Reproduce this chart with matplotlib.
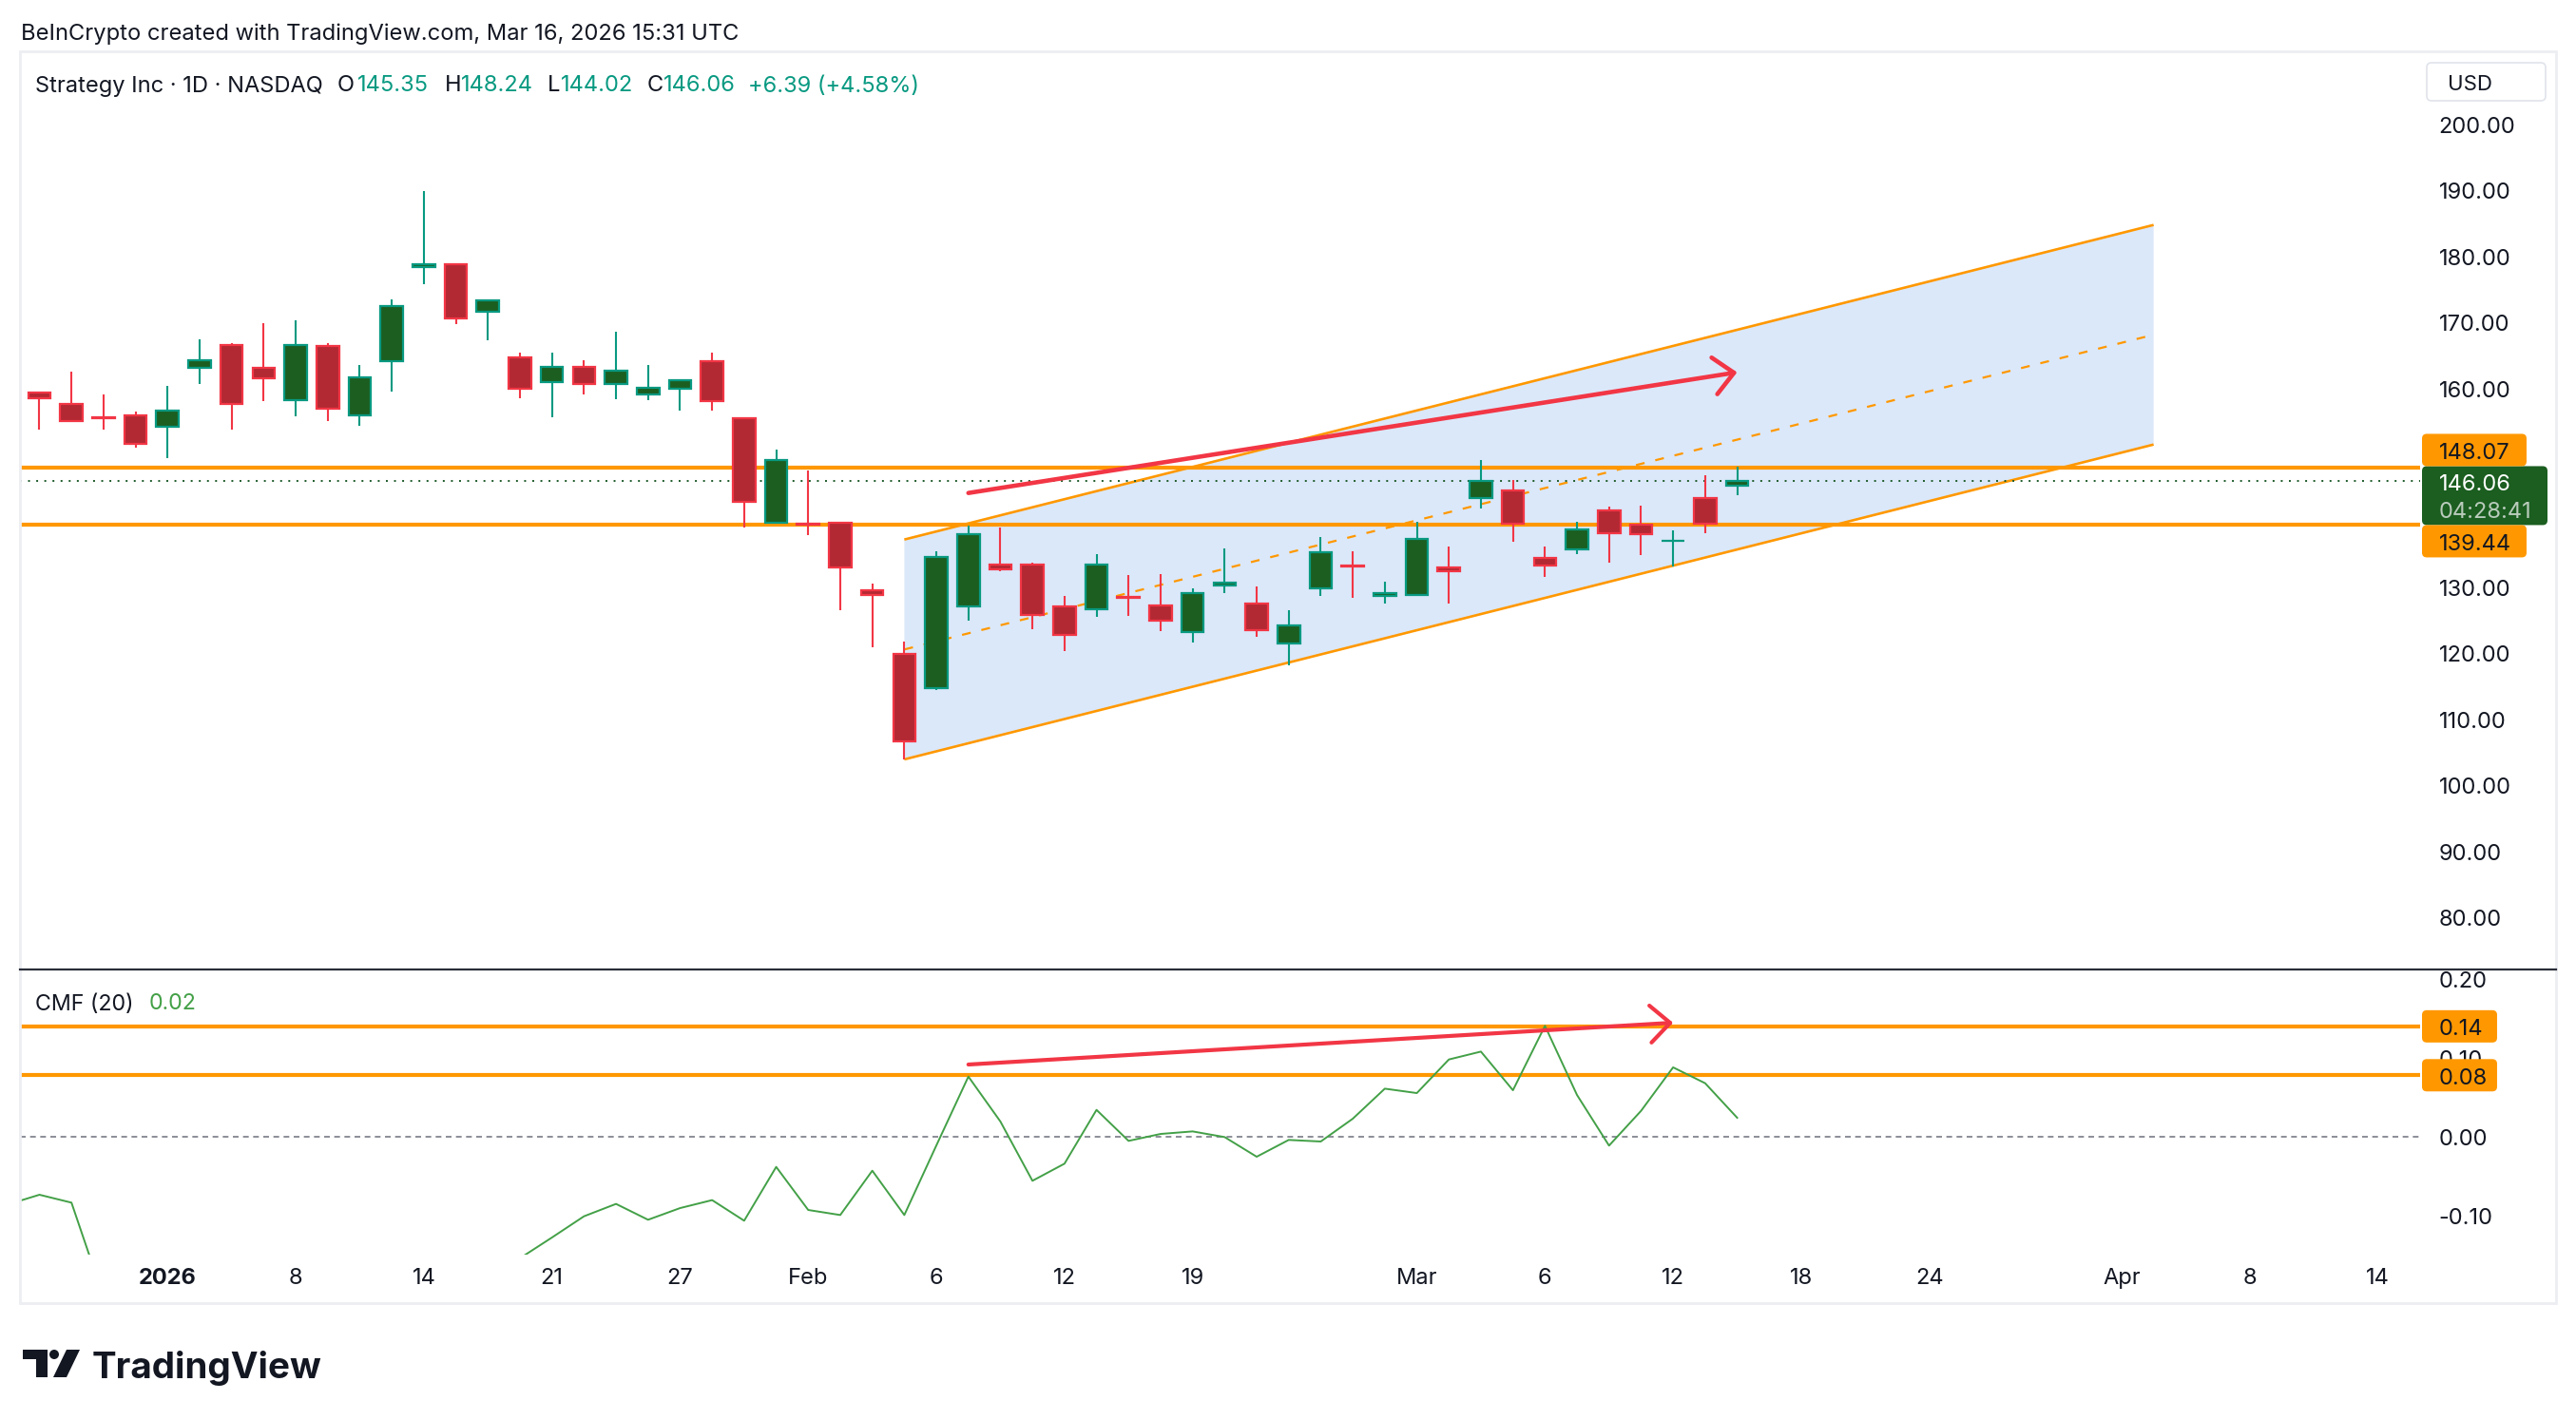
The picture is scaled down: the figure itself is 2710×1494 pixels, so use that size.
import matplotlib
matplotlib.use('Agg')
import matplotlib.pyplot as plt
from matplotlib.patches import Rectangle, FancyBboxPatch, Polygon, Circle
from matplotlib.lines import Line2D
import matplotlib.transforms as mtransforms
import numpy as np

plt.rcParams['font.family'] = ['Inter', 'DejaVu Sans']

# ---------------- data ----------------
dates = ['Dec 26', 'Dec 29', 'Dec 30', 'Dec 31',
         'Jan 2', 'Jan 5', 'Jan 6', 'Jan 7', 'Jan 8', 'Jan 9', 'Jan 12', 'Jan 13', 'Jan 14',
         'Jan 15', 'Jan 16', 'Jan 20', 'Jan 21', 'Jan 22', 'Jan 23', 'Jan 26', 'Jan 27',
         'Jan 28', 'Jan 29', 'Jan 30',
         'Feb 2', 'Feb 3', 'Feb 4', 'Feb 5', 'Feb 6', 'Feb 9', 'Feb 10', 'Feb 11', 'Feb 12',
         'Feb 13', 'Feb 17', 'Feb 18', 'Feb 19', 'Feb 20', 'Feb 23', 'Feb 24', 'Feb 25',
         'Feb 26', 'Feb 27',
         'Mar 2', 'Mar 3', 'Mar 4', 'Mar 5', 'Mar 6', 'Mar 9', 'Mar 10', 'Mar 11', 'Mar 12',
         'Mar 13', 'Mar 16']
opens = [159.54, 157.72, 155.80, 156.00,
         154.32, 163.18, 166.64, 163.18, 158.34, 166.49, 156.04, 164.24, 178.47,
         178.86, 171.67, 164.86, 161.03, 163.42, 160.74, 159.16, 160.02,
         164.19, 155.66, 139.84,
         139.65, 139.84, 129.64, 120.00, 114.73, 127.10, 133.42, 133.42, 127.19,
         126.71, 128.63, 127.34, 123.21, 130.26, 127.62, 121.54, 129.83,
         133.37, 128.68,
         128.87, 133.09, 143.49, 144.73, 134.53, 135.72, 141.62, 139.56, 137.02,
         143.58, 145.35]
highs = [159.60, 162.66, 159.20, 156.57,
         160.50, 167.55, 166.97, 169.99, 170.42, 166.97, 163.66, 173.58, 189.98,
         179.00, 173.58, 165.53, 165.53, 164.38, 168.70, 163.66, 161.46,
         165.53, 155.70, 150.87,
         147.70, 139.90, 130.55, 121.78, 135.44, 139.32, 139.08, 133.71, 128.73,
         135.05, 131.89, 132.03, 129.83, 135.92, 130.16, 126.57, 137.64,
         135.48, 130.88,
         139.89, 136.20, 149.29, 146.27, 136.20, 139.89, 142.19, 142.34, 138.60,
         146.94, 148.24]
lows = [153.93, 155.00, 153.93, 151.20,
        149.62, 160.79, 153.93, 158.25, 155.95, 155.23, 154.50, 159.68, 175.93,
        169.90, 167.45, 158.68, 155.80, 159.25, 158.53, 158.39, 156.81,
        156.81, 139.12, 139.80,
        137.88, 126.62, 121.01, 104.00, 114.54, 124.94, 132.51, 123.74, 120.39,
        125.61, 125.75, 123.45, 121.73, 129.20, 122.59, 118.28, 128.77,
        128.44, 127.62,
        128.80, 127.62, 142.00, 136.92, 131.65, 135.10, 133.81, 134.96, 133.23,
        138.26, 144.02]
closes = [158.59, 155.13, 155.60, 151.73,
          156.81, 164.43, 157.72, 161.60, 166.64, 157.05, 161.84, 172.63, 178.95,
          170.71, 173.39, 160.07, 163.42, 160.74, 162.85, 160.26, 161.32,
          158.15, 142.96, 149.33,
          139.46, 132.99, 128.87, 106.73, 134.67, 138.12, 132.70, 125.80, 122.78,
          133.52, 128.44, 124.94, 129.20, 130.79, 123.55, 124.32, 135.39,
          133.18, 129.20,
          137.40, 132.42, 146.17, 139.65, 133.33, 138.74, 138.17, 138.07, 137.11,
          139.67, 146.06]

cmf_days = ['Dec 24'] + dates
cmf_values = [-0.086, -0.0735, -0.0835, -0.203, -0.21, -0.19, -0.22, -0.20, -0.18, -0.21,
              -0.19, -0.17, -0.20, -0.18, -0.17, -0.165, -0.154, -0.1277, -0.1008, -0.0851,
              -0.1052, -0.0904, -0.0803, -0.1064, -0.0382, -0.0928, -0.0992, -0.043, -0.0992,
              -0.011, 0.0763, 0.0193, -0.0558, -0.0341, 0.0341, -0.0052, 0.0036, 0.0068,
              -0.0004, -0.0253, -0.004, -0.006, 0.0229, 0.061, 0.0554, 0.098, 0.108, 0.059,
              0.1406, 0.053, -0.0112, 0.0329, 0.088, 0.0679, 0.0241]

future_days = ['Mar 17', 'Mar 18', 'Mar 19', 'Mar 20', 'Mar 23', 'Mar 24', 'Mar 25', 'Mar 26',
               'Mar 27', 'Mar 30', 'Mar 31', 'Apr 1', 'Apr 2', 'Apr 6', 'Apr 7', 'Apr 8',
               'Apr 9', 'Apr 10', 'Apr 13', 'Apr 14']

tick_days = ['Jan 2', 'Jan 8', 'Jan 14', 'Jan 21', 'Jan 27', 'Feb 2', 'Feb 6', 'Feb 12',
             'Feb 19', 'Mar 2', 'Mar 6', 'Mar 12', 'Mar 18', 'Mar 24', 'Apr 1', 'Apr 8', 'Apr 14']
tick_labels = ['2026', '8', '14', '21', '27', 'Feb', '6', '12', '19', 'Mar', '6', '12', '18',
               '24', 'Apr', '8', '14']

price_ticks = [80, 90, 100, 110, 120, 130, 160, 170, 180, 190, 200]
cmf_ticks = [0.20, 0.10, 0.00, -0.10]

resistance = 148.07
support = 139.44
last_price = 146.06
countdown = '04:28:41'
cmf_levels = [0.14, 0.078]

channel_days = ['Feb 5', 'Apr 2']
channel_lower = [104.00, 151.63]
channel_upper = [137.26, 184.85]

price_arrow_days = ['Feb 9', 'Mar 16']
price_arrow_vals = [144.30, 162.56]
cmf_arrow_days = ['Feb 9', 'Mar 12']
cmf_arrow_vals = [0.0916, 0.1446]

header = 'BeInCrypto created with TradingView.com, Mar 16, 2026 15:31 UTC'
legend_pieces = [('Strategy Inc · 1D · NASDAQ', 'k', 37), ('O', 'k', 355), ('145.35', 't', 376),
                 ('H', 'k', 468), ('148.24', 't', 485), ('L', 'k', 576), ('144.02', 't', 590),
                 ('C', 'k', 681), ('146.06', 't', 698), ('+6.39 (+4.58%)', 't', 787)]

# ---------------- helpers ----------------
all_days = ['Dec 24'] + dates + future_days
zero = all_days.index('Jan 2')
def bx(d):
    return all_days.index(d) - zero

W, H = 2710, 1494
fig = plt.figure(figsize=(W / 100, H / 100), dpi=100)
fig.patch.set_facecolor('white')
IDT = mtransforms.IdentityTransform()
renderer = fig.canvas.get_renderer()

def Y(y):
    return H - y

UP_EDGE, UP_FILL = '#089981', '#1b5e20'
DN_EDGE, DN_FILL = '#f23645', '#b22833'
ORANGE = '#ff9800'
TEAL = '#089981'
TXT = '#131722'
RED = '#f23645'

L, R = 20.7, 2546
P_TOP, P_BOT, C_BOT = 55, 1019.5, 1320
ax = fig.add_axes([L / W, Y(P_BOT) / H, (R - L) / W, (P_BOT - P_TOP) / H])
axc = fig.add_axes([L / W, Y(C_BOT) / H, (R - L) / W, (C_BOT - P_BOT) / H])

xl = (-4.617, 70.32)
for a in (ax, axc):
    a.set_xlim(*xl)
    for s in a.spines.values():
        s.set_visible(False)
    a.set_facecolor('none')
ax.set_ylim(72.29, 210.97)
axc.set_ylim(-0.1494, 0.2127)

# price axis
ax.yaxis.tick_right()
ax.set_yticks(price_ticks)
ax.set_yticklabels([f'{v:.2f}' for v in price_ticks])
ax.tick_params(axis='y', length=0, pad=14, labelsize=17, labelcolor=TXT)
ax.set_xticks([])

axc.yaxis.tick_right()
axc.set_yticks(cmf_ticks)
axc.set_yticklabels([f'{v:.2f}' for v in cmf_ticks])
axc.tick_params(axis='y', length=0, pad=14, labelsize=17, labelcolor=TXT)
axc.set_xticks([bx(d) for d in tick_days])
axc.set_xticklabels(tick_labels)
axc.tick_params(axis='x', length=0, pad=10, labelsize=17, labelcolor=TXT)
axc.get_xticklabels()[0].set_fontweight('bold')

# channel
cx = [bx(d) for d in channel_days]
ax.fill([cx[0], cx[1], cx[1], cx[0]],
        [channel_lower[0], channel_lower[1], channel_upper[1], channel_upper[0]],
        color='#dbe8fa', lw=0, zorder=1)
ax.plot(cx, channel_upper, color=ORANGE, lw=1.9, zorder=2, solid_capstyle='butt')
ax.plot(cx, channel_lower, color=ORANGE, lw=1.9, zorder=2, solid_capstyle='butt')
ax.plot(cx, [(channel_lower[0] + channel_upper[0]) / 2, (channel_lower[1] + channel_upper[1]) / 2],
        color=ORANGE, lw=1.6, ls=(0, (4.2, 5.2)), zorder=2)

# horizontal levels
ax.axhline(resistance, color=ORANGE, lw=3.0, zorder=2.5)
ax.axhline(support, color=ORANGE, lw=3.0, zorder=2.5)
ax.axhline(last_price, color='#1e5b2a', lw=1.4, ls=(0, (1.0, 3.4)), zorder=2.6)

# candles
bw = 0.70
for d, o, h, l, c in zip(dates, opens, highs, lows, closes):
    xi = bx(d)
    up = c >= o
    ec = UP_EDGE if up else DN_EDGE
    fc = UP_FILL if up else DN_FILL
    ax.plot([xi, xi], [l, h], color=ec, lw=1.5, zorder=3, solid_capstyle='butt')
    ax.add_patch(Rectangle((xi - bw / 2, min(o, c)), bw, max(abs(c - o), 0.05),
                           facecolor=fc, edgecolor=ec, lw=1.6, zorder=4))

# red arrows
arrow_style = '->,head_length=1.5,head_width=1.4'
ax.annotate('', xy=(bx(price_arrow_days[1]), price_arrow_vals[1]),
            xytext=(bx(price_arrow_days[0]), price_arrow_vals[0]),
            arrowprops=dict(arrowstyle=arrow_style, mutation_scale=10, lw=3.3, color=RED,
                            shrinkA=0, shrinkB=0, capstyle='round', joinstyle='round'),
            zorder=5)

# CMF pane
axc.axhline(0, color='#787b86', lw=1.2, ls=(0, (3.6, 2.8)), zorder=1)
for lv in cmf_levels:
    axc.axhline(lv, color=ORANGE, lw=3.0, zorder=2)
axc.plot([bx(d) for d in cmf_days], cmf_values, color='#43a047', lw=1.4, zorder=3)
axc.annotate('', xy=(bx(cmf_arrow_days[1]), cmf_arrow_vals[1]),
             xytext=(bx(cmf_arrow_days[0]), cmf_arrow_vals[0]),
             arrowprops=dict(arrowstyle=arrow_style, mutation_scale=10, lw=3.0, color=RED,
                             shrinkA=0, shrinkB=0, capstyle='round', joinstyle='round'),
             zorder=5)

# ---------------- frame & separator ----------------
fig.add_artist(Rectangle((L, Y(1371)), 2689 - L, 1371 - 54, transform=IDT, fill=False,
                         edgecolor='#eceef2', lw=2.0, zorder=0.5))
fig.add_artist(Line2D([L, 2689], [Y(P_BOT), Y(P_BOT)], transform=IDT, color='#2a2e39',
                      lw=1.6, zorder=2))

# ---------------- right-axis labels ----------------
def pix(axis, v):
    return axis.transData.transform((0, v))[1]

def box(x0, x1, ytop, ybot, color, ec='none', lw=0):
    fig.add_artist(FancyBboxPatch((x0, ybot), x1 - x0, ytop - ybot,
                                  boxstyle='round,pad=0,rounding_size=5', transform=IDT,
                                  facecolor=color, edgecolor=ec, lw=lw, zorder=5))

def label(x, y, s, color, size=17, **kw):
    fig.text(x, y, s, transform=IDT, color=color, fontsize=size, va='center_baseline',
             ha='left', zorder=6, **kw)

BX0 = 2548
yc = pix(ax, last_price)
g_top, g_bot = yc + 16, yc + 16 - 62
box(BX0, 2680, g_top, g_bot, '#1b5e20')
label(2566, yc - 1, f'{last_price:.2f}', 'white')
label(2566, yc - 30, countdown, '#b9cbbb')
box(BX0, 2658, g_top + 34, g_top, ORANGE)
label(2566, g_top + 17 - 1, f'{resistance:.2f}', TXT)
box(BX0, 2658, g_bot, g_bot - 34, ORANGE)
label(2566, g_bot - 17 - 1, f'{support:.2f}', TXT)
for lv in cmf_levels:
    yl = pix(axc, lv)
    box(BX0, 2627, yl + 17, yl - 17, ORANGE)
    label(2566, yl - 1, f'{lv:.2f}', TXT)

# USD box
box(2553, 2678, Y(66), Y(106), 'white', ec='#e0e3eb', lw=1.2)
label(2575, Y(87), 'USD', TXT, size=16)

# ---------------- header / legends ----------------
def fit(x, y, s, target_w, color, weight='normal'):
    t = fig.text(x, y, s, transform=IDT, color=color, fontsize=16, va='center_baseline',
                 ha='left', fontweight=weight)
    w = t.get_window_extent(renderer).width
    t.set_fontsize(16 * target_w / w)
    return t.get_fontsize()

fit(22, Y(33), header, 756, TXT)
fs = fit(legend_pieces[0][2], Y(88), legend_pieces[0][0], 303, TXT)
for s, c, x in legend_pieces[1:]:
    fig.text(x, Y(88), s, transform=IDT, color=TEAL if c == 't' else TXT, fontsize=fs,
             va='center_baseline', ha='left')

fs2 = fit(37, Y(1054), 'CMF (20)', 104, TXT)
fig.text(157, Y(1054), f'{cmf_values[-1]:.2f}', transform=IDT, color='#43a047', fontsize=fs2,
         va='center_baseline', ha='left')

# ---------------- TradingView logo ----------------
fig.add_artist(Polygon([[24, Y(1420)], [50, Y(1420)], [50, Y(1449)], [38, Y(1449)], [38, Y(1430)],
                        [24, Y(1430)]], closed=True, transform=IDT, facecolor='#131722', lw=0))
fig.add_artist(Circle((57, Y(1425)), 5, transform=IDT, facecolor='#131722', lw=0))
fig.add_artist(Polygon([[70, Y(1420)], [84, Y(1420)], [70, Y(1449)], [56, Y(1449)]], closed=True,
                       transform=IDT, facecolor='#131722', lw=0))
fit(97, Y(1435), 'TradingView', 243, '#131722', weight='bold')

fig.savefig('out.png', dpi=100, facecolor='white')
